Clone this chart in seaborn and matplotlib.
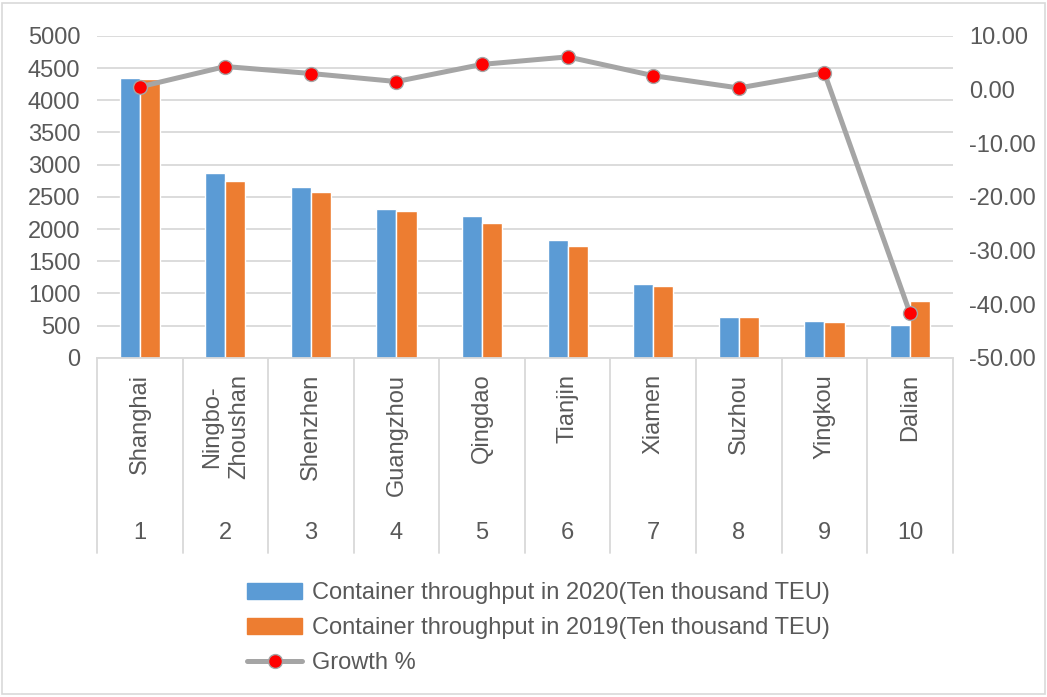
"""
Top 10 container ports: throughput 2020 vs 2019 and growth
"""

import numpy as np
import pandas as pd
import matplotlib
matplotlib.use('Agg')
import matplotlib.pyplot as plt
import seaborn as sns
from matplotlib.patches import Patch, Rectangle
from matplotlib.lines import Line2D
from matplotlib.transforms import blended_transform_factory

# data
ports = ['Shanghai', 'Ningbo-\nZhoushan', 'Shenzhen', 'Guangzhou', 'Qingdao',
         'Tianjin', 'Xiamen', 'Suzhou', 'Yingkou', 'Dalian']
ranks = ['1', '2', '3', '4', '5', '6', '7', '8', '9', '10']
teu_2020 = [4350, 2872, 2655, 2317, 2200, 1835, 1141, 629, 565, 511]
teu_2019 = [4330, 2753, 2577, 2283, 2101, 1730, 1112, 627, 548, 876]
growth = [0.5, 4.3, 3.0, 1.5, 4.7, 6.1, 2.6, 0.3, 3.1, -41.7]

label_2020 = 'Container throughput in 2020(Ten thousand TEU)'
label_2019 = 'Container throughput in 2019(Ten thousand TEU)'
label_growth = 'Growth %'

BLUE = '#5B9BD5'
ORANGE = '#ED7D31'
GRAY = '#A5A5A5'
TEXT = '#595959'
GRID = '#D9D9D9'
FS = 17

sns.set_style('white')
plt.rcParams['font.family'] = ['Liberation Sans', 'DejaVu Sans']
plt.rcParams['font.size'] = FS

df = pd.DataFrame({
    'port': ports * 2,
    'teu': teu_2020 + teu_2019,
    'series': [label_2020] * len(ports) + [label_2019] * len(ports),
})

fig = plt.figure(figsize=(10.47, 6.97), dpi=100)
ax = fig.add_axes([0.0926, 0.4868, 0.8174, 0.4616])

sns.barplot(data=df, x='port', y='teu', hue='series', order=ports,
            palette={label_2020: BLUE, label_2019: ORANGE},
            width=0.47, gap=0, saturation=1, legend=False, ax=ax)

ax.set_ylim(0, 5000)
ax.set_yticks(np.arange(0, 5001, 500))
ax.set_xlim(-0.5, len(ports) - 0.5)
ax.grid(axis='y', color=GRID, linewidth=1.3)
ax.set_axisbelow(True)
ax.set_xticks([])
ax.set_xlabel('')
ax.set_ylabel('')
ax.tick_params(axis='y', length=0, pad=12, labelcolor=TEXT, labelsize=FS)
for s in ['top', 'right', 'left']:
    ax.spines[s].set_visible(False)
ax.spines['bottom'].set_color(GRID)
ax.spines['bottom'].set_linewidth(1.3)

# growth line on the right axis
ax2 = ax.twinx()
sns.lineplot(x=np.arange(len(ports)), y=growth, ax=ax2, color=GRAY,
             linewidth=3.6, marker='o', markersize=10,
             markerfacecolor='red', markeredgecolor=GRAY, markeredgewidth=1)
ax2.set_ylim(-50, 10)
ax2.set_yticks(np.arange(-50, 11, 10))
ax2.set_yticklabels([f'{v:.2f}' for v in np.arange(-50, 11, 10)])
ax2.tick_params(axis='y', length=0, pad=12, labelcolor=TEXT, labelsize=FS)
for s in ['top', 'right', 'left', 'bottom']:
    ax2.spines[s].set_visible(False)

# two-level category axis
trans = blended_transform_factory(ax.transData, ax.transAxes)
for i in range(len(ports) + 1):
    ax.plot([i - 0.5, i - 0.5], [0, -0.607], transform=trans, color=GRID,
            linewidth=1.3, clip_on=False)
for i, (p, r) in enumerate(zip(ports, ranks)):
    ax.text(i, -0.05, p, transform=trans, rotation=90, ha='center', va='top',
            color=TEXT, fontsize=FS, linespacing=1.3)
    ax.text(i, -0.545, r, transform=trans, ha='center', va='center',
            color=TEXT, fontsize=FS)

handles = [
    Patch(facecolor=BLUE, edgecolor=BLUE),
    Patch(facecolor=ORANGE, edgecolor=ORANGE),
    Line2D([], [], color=GRAY, linewidth=3.6, marker='o', markersize=10,
           markerfacecolor='red', markeredgecolor=GRAY),
]
leg = fig.legend(handles, [label_2020, label_2019, label_growth],
                 loc='upper left', bbox_to_anchor=(0.216, 0.195),
                 frameon=False, fontsize=FS, handlelength=2.33,
                 handleheight=0.7, labelspacing=0.55, handletextpad=0.4)
for t in leg.get_texts():
    t.set_color(TEXT)

# thin border round the chart
fig.patches.append(Rectangle((0.002, 0.004), 0.996, 0.992, transform=fig.transFigure,
                             fill=False, edgecolor=GRID, linewidth=1.2))

fig.savefig('out.png', dpi=100)
